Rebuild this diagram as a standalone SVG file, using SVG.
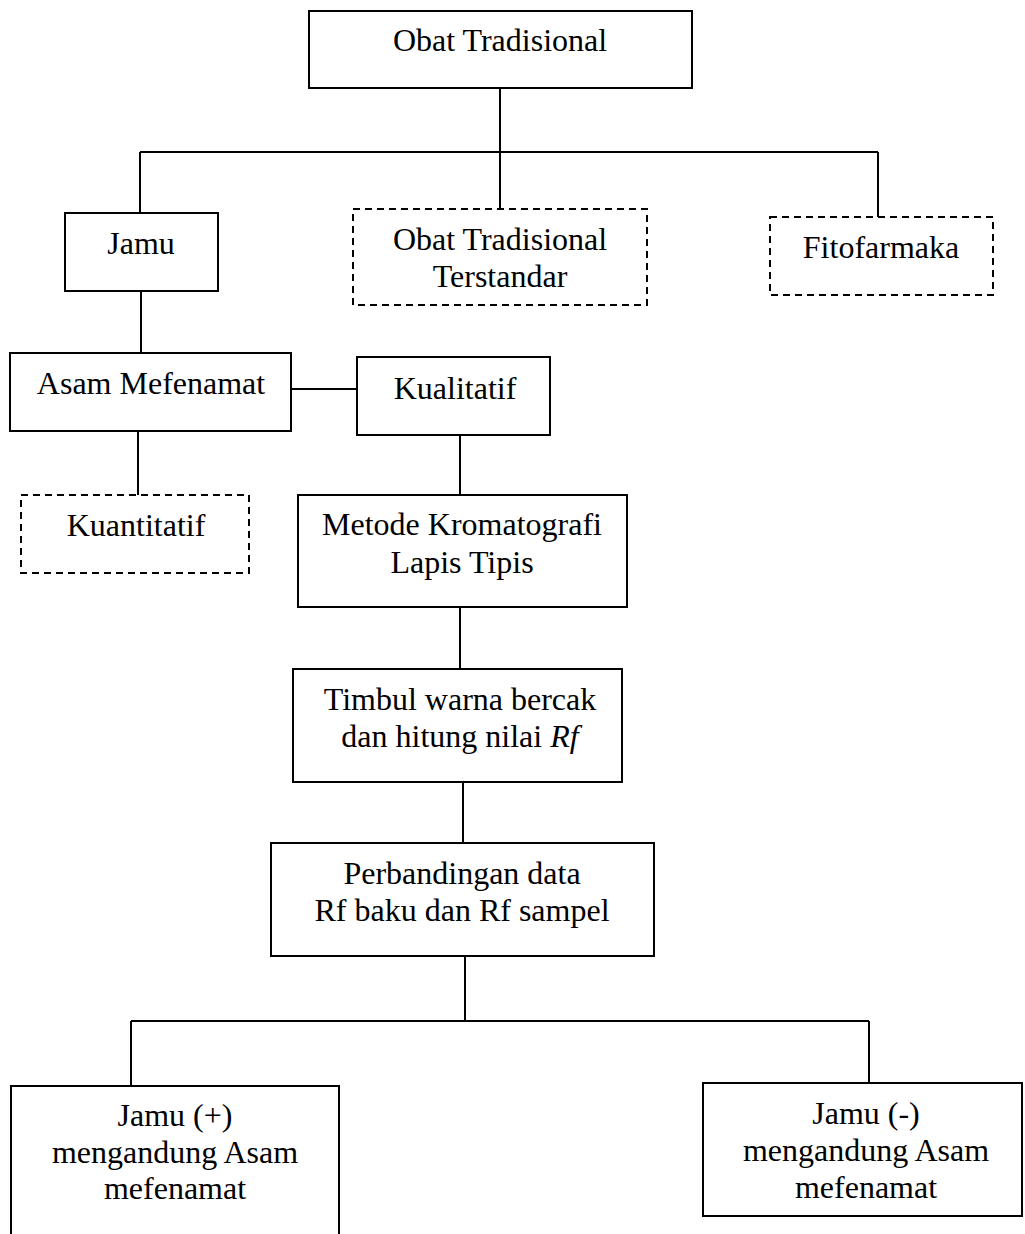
<svg xmlns="http://www.w3.org/2000/svg" width="1025" height="1234" viewBox="0 0 1025 1234">
<style>
.box{fill:#fff;stroke:#000;stroke-width:2}
.dash{fill:#fff;stroke:#000;stroke-width:2;stroke-dasharray:7 5}
.t{font-family:"Liberation Serif","Times New Roman",serif;font-size:32px;fill:#000;text-anchor:middle}
.c{fill:none;stroke:#000;stroke-width:2}
</style>
<rect width="1025" height="1234" fill="#fff"/>
<g id="connectors">
<path class="c" d="M500 88V152M140 152H878M140 152V213M500 152V209M878 152V217"/>
<path class="c" d="M141 291V353M291 389H357M138 431V495M460 435V495"/>
<path class="c" d="M460 607V669M463 782V843M465 956V1021M131 1021H869M131 1021V1086M869 1021V1083"/>
</g>
<g id="obat-tradisional"><rect class="box" x="309" y="11" width="383" height="77"/><text class="t" x="500" y="51">Obat Tradisional</text></g>
<g id="jamu"><rect class="box" x="65" y="213" width="153" height="78"/><text class="t" x="141" y="254">Jamu</text></g>
<g id="ott"><rect class="dash" x="353" y="209" width="294" height="96"/><text class="t" x="500" y="250">Obat Tradisional</text><text class="t" x="500" y="287">Terstandar</text></g>
<g id="fitofarmaka"><rect class="dash" x="770" y="217" width="223" height="78"/><text class="t" x="881" y="258">Fitofarmaka</text></g>
<g id="asam-mefenamat"><rect class="box" x="10" y="353" width="281" height="78"/><text class="t" x="151" y="394">Asam Mefenamat</text></g>
<g id="kualitatif"><rect class="box" x="357" y="357" width="193" height="78"/><text class="t" x="455" y="399">Kualitatif</text></g>
<g id="kuantitatif"><rect class="dash" x="21" y="495" width="228" height="78"/><text class="t" x="136" y="536">Kuantitatif</text></g>
<g id="klt"><rect class="box" x="298" y="495" width="329" height="112"/><text class="t" x="462" y="535">Metode Kromatografi</text><text class="t" x="462" y="573">Lapis Tipis</text></g>
<g id="timbul"><rect class="box" x="293" y="669" width="329" height="113"/><text class="t" x="460" y="710">Timbul warna bercak</text><text class="t" x="460" y="747">dan hitung nilai <tspan font-style="italic">Rf</tspan></text></g>
<g id="perbandingan"><rect class="box" x="271" y="843" width="383" height="113"/><text class="t" x="462" y="884">Perbandingan data</text><text class="t" x="462" y="921">Rf baku dan Rf sampel</text></g>
<g id="jamu-positif"><rect class="box" x="11" y="1086" width="328" height="160"/><text class="t" x="175" y="1126">Jamu (+)</text><text class="t" x="175" y="1163">mengandung Asam</text><text class="t" x="175" y="1199">mefenamat</text></g>
<g id="jamu-negatif"><rect class="box" x="703" y="1083" width="319" height="133"/><text class="t" x="866" y="1124">Jamu (-)</text><text class="t" x="866" y="1161">mengandung Asam</text><text class="t" x="866" y="1198">mefenamat</text></g>
</svg>
